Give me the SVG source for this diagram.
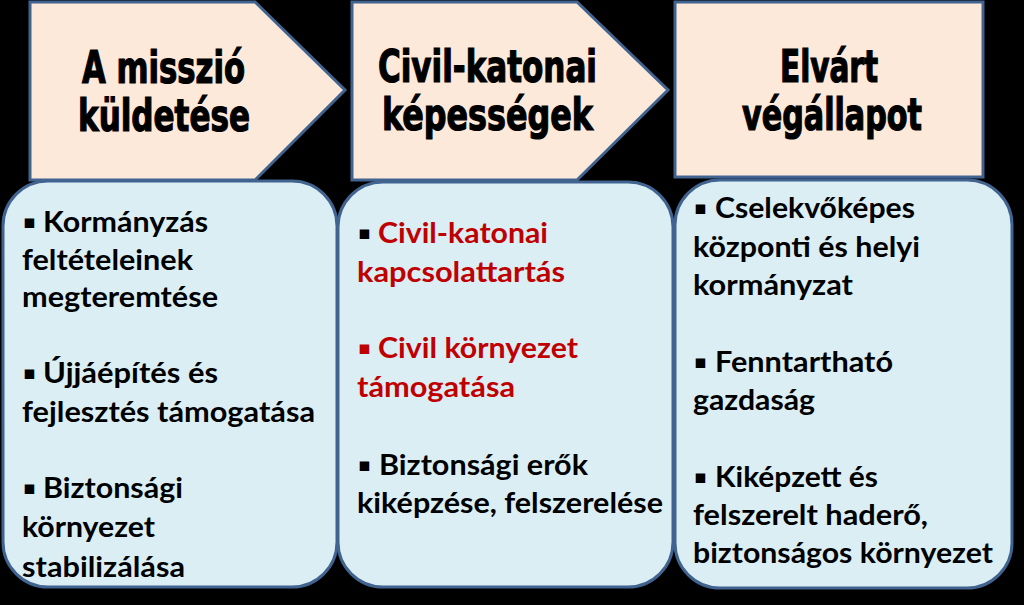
<svg xmlns="http://www.w3.org/2000/svg" width="1024" height="605" viewBox="0 0 1024 605">
<style>
.hdr{fill:#FDE9D9;stroke:#41638F;stroke-width:3;stroke-linejoin:miter}
.box{fill:#DBEEF4;stroke:#41638F;stroke-width:3}
.ht{font-family:"DejaVu Sans Condensed","DejaVu Sans",sans-serif;font-weight:bold;font-size:44px;fill:#000;stroke:#000;stroke-width:1.2}
.bt{font-family:Lato,"Open Sans","DejaVu Sans",sans-serif;font-weight:bold;font-size:28px;fill:#000}
.red{fill:#C00000}
.bul{font-family:"DejaVu Sans",sans-serif;font-size:19px;font-weight:bold}
</style>
<rect width="1024" height="605" fill="#000"/>
<g id="node-h1">
<polygon class="hdr" points="30,2 255,2 345,90 255,180 30,180"/>
<text class="ht"><tspan x="82" y="83" textLength="163" lengthAdjust="spacingAndGlyphs">A misszió</tspan><tspan x="78" y="131" textLength="172" lengthAdjust="spacingAndGlyphs">küldetése</tspan></text>
</g>
<g id="node-h2">
<polygon class="hdr" points="352,2 577,2 668,90 577,180 352,180"/>
<text class="ht"><tspan x="378" y="82" textLength="219" lengthAdjust="spacingAndGlyphs">Civil-katonai</tspan><tspan x="382" y="130" textLength="211" lengthAdjust="spacingAndGlyphs">képességek</tspan></text>
</g>
<g id="node-h3">
<rect class="hdr" x="675" y="2" width="308" height="175"/>
<text class="ht"><tspan x="780" y="82" textLength="98" lengthAdjust="spacingAndGlyphs">Elvárt</tspan><tspan x="742" y="130" textLength="180" lengthAdjust="spacingAndGlyphs">végállapot</tspan></text>
</g>
<g id="connectors"/>
<g id="node-b1">
<rect class="box" x="3" y="181" width="334" height="406" rx="45" ry="45"/>
<text class="bt">
<tspan class="bul" x="23" y="228">▪</tspan><tspan x="43" y="232" textLength="165" lengthAdjust="spacingAndGlyphs">Kormányzás</tspan>
<tspan x="22" y="270" textLength="171" lengthAdjust="spacingAndGlyphs">feltételeinek</tspan>
<tspan x="22" y="307" textLength="196" lengthAdjust="spacingAndGlyphs">megteremtése</tspan>
<tspan class="bul" x="23" y="379">▪</tspan><tspan x="43" y="383" textLength="175" lengthAdjust="spacingAndGlyphs">Újjáépítés és</tspan>
<tspan x="22" y="422" textLength="293" lengthAdjust="spacingAndGlyphs">fejlesztés támogatása</tspan>
<tspan class="bul" x="23" y="494">▪</tspan><tspan x="43" y="498" textLength="140" lengthAdjust="spacingAndGlyphs">Biztonsági</tspan>
<tspan x="22" y="537" textLength="133" lengthAdjust="spacingAndGlyphs">környezet</tspan>
<tspan x="22" y="577" textLength="163" lengthAdjust="spacingAndGlyphs">stabilizálása</tspan>
</text>
</g>
<g id="node-b2">
<rect class="box" x="338" y="182" width="335" height="405" rx="45" ry="45"/>
<text class="bt">
<tspan class="bul" x="358" y="239">▪</tspan><tspan class="red" x="378" y="243" textLength="170" lengthAdjust="spacingAndGlyphs">Civil-katonai</tspan>
<tspan class="red" x="357" y="282" textLength="208" lengthAdjust="spacingAndGlyphs">kapcsolattartás</tspan>
<tspan class="bul red" x="358" y="354">▪</tspan><tspan class="red" x="378" y="358" textLength="200" lengthAdjust="spacingAndGlyphs">Civil környezet</tspan>
<tspan class="red" x="357" y="397" textLength="158" lengthAdjust="spacingAndGlyphs">támogatása</tspan>
<tspan class="bul" x="358" y="471">▪</tspan><tspan x="379" y="475" textLength="209" lengthAdjust="spacingAndGlyphs">Biztonsági erők</tspan>
<tspan x="357" y="513" textLength="306" lengthAdjust="spacingAndGlyphs">kiképzése, felszerelése</tspan>
</text>
</g>
<g id="node-b3">
<rect class="box" x="675" y="180" width="337" height="408" rx="45" ry="45"/>
<text class="bt">
<tspan class="bul" x="694" y="214">▪</tspan><tspan x="715" y="218" textLength="200" lengthAdjust="spacingAndGlyphs">Cselekvőképes</tspan>
<tspan x="693" y="257" textLength="227" lengthAdjust="spacingAndGlyphs">központi és helyi</tspan>
<tspan x="693" y="295" textLength="160" lengthAdjust="spacingAndGlyphs">kormányzat</tspan>
<tspan class="bul" x="694" y="368">▪</tspan><tspan x="715" y="372" textLength="178" lengthAdjust="spacingAndGlyphs">Fenntartható</tspan>
<tspan x="693" y="410" textLength="122" lengthAdjust="spacingAndGlyphs">gazdaság</tspan>
<tspan class="bul" x="694" y="483">▪</tspan><tspan x="715" y="487" textLength="163" lengthAdjust="spacingAndGlyphs">Kiképzett és</tspan>
<tspan x="693" y="525" textLength="235" lengthAdjust="spacingAndGlyphs">felszerelt haderő,</tspan>
<tspan x="693" y="563" textLength="300" lengthAdjust="spacingAndGlyphs">biztonságos környezet</tspan>
</text>
</g>
</svg>
